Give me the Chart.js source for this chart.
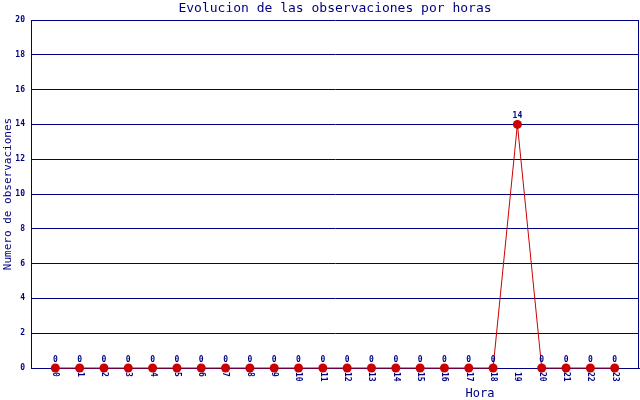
<!DOCTYPE html>
<html>
<head>
<meta charset="utf-8">
<script src="https://cdn.jsdelivr.net/npm/chart.js@4/dist/chart.umd.min.js"></script>
<style>
  html, body { margin: 0; padding: 0; background: #fff; }
  #wrap { width: 640px; height: 400px; }
</style>
</head>
<body>
<div id="wrap"><canvas id="chart"></canvas></div>
<script>
const horas = [0, 1, 2, 3, 4, 5, 6, 7, 8, 9, 10, 11, 12, 13, 14, 15, 16, 17, 18, 19, 20, 21, 22, 23];
const observaciones = [0, 0, 0, 0, 0, 0, 0, 0, 0, 0, 0, 0, 0, 0, 0, 0, 0, 0, 0, 14, 0, 0, 0, 0];
const yTicks = [0, 2, 4, 6, 8, 10, 12, 14, 16, 18, 20];

const titulo = "Evolucion de las observaciones por horas";
const tituloX = "Hora";
const tituloY = "Numero de observaciones";

const navy = "#000080";
const rojo = "#cc0000";
const mono = "'DejaVu Sans Mono', 'Liberation Mono', monospace";

const extras = {
  id: "extras",
  afterDatasetsDraw(chart) {
    const ctx = chart.ctx;
    const area = chart.chartArea;
    const x = chart.scales.x;
    ctx.save();
    // borde derecho
    ctx.strokeStyle = navy;
    ctx.lineWidth = 1;
    ctx.beginPath();
    ctx.moveTo(area.right - 0.5, area.top);
    ctx.lineTo(area.right - 0.5, area.bottom);
    ctx.stroke();

    // titulo
    ctx.fillStyle = navy;
    ctx.font = "13px " + mono;
    ctx.textAlign = "center";
    ctx.textBaseline = "middle";
    ctx.fillText(titulo, (area.left + area.right) / 2, 9);

    // etiquetas de valores
    ctx.font = "bold 8px " + mono;
    ctx.textBaseline = "bottom";
    chart.getDatasetMeta(0).data.forEach((p, i) => {
      ctx.fillText(String(observaciones[i]), p.x, p.y - 4);
    });

    // etiquetas eje x (rotadas)
    horas.forEach(h => {
      ctx.save();
      ctx.translate(x.getPixelForValue(h), area.bottom + 4);
      ctx.rotate(Math.PI / 2);
      ctx.textAlign = "left";
      ctx.textBaseline = "middle";
      ctx.fillText(String(h), 0, 0);
      ctx.restore();
    });

    // titulo eje x
    ctx.font = "12px " + mono;
    ctx.textAlign = "center";
    ctx.textBaseline = "middle";
    ctx.fillText(tituloX, 480, 394);

    // titulo eje y
    ctx.font = "11px " + mono;
    ctx.translate(8, (area.top + area.bottom) / 2);
    ctx.rotate(-Math.PI / 2);
    ctx.fillText(tituloY, 0, 0);
    ctx.restore();
  }
};

new Chart(document.getElementById("chart"), {
  type: "line",
  data: {
    datasets: [{
      data: horas.map((h, i) => ({ x: h, y: observaciones[i] })),
      borderColor: rojo,
      borderWidth: 1,
      backgroundColor: rojo,
      pointBackgroundColor: rojo,
      pointBorderColor: rojo,
      pointRadius: 4.5,
      pointBorderWidth: 0,
      tension: 0,
      clip: false
    }]
  },
  options: {
    responsive: true,
    maintainAspectRatio: false,
    animation: false,
    devicePixelRatio: 1,
    layout: { autoPadding: false, padding: { top: 20, right: 1, left: 0, bottom: 0 } },
    plugins: { legend: { display: false }, tooltip: { enabled: false }, title: { display: false } },
    scales: {
      x: {
        type: "linear",
        min: -1,
        max: 24,
        afterBuildTicks: s => { s.ticks = horas.map(v => ({ value: v })); },
        afterFit: s => { s.height = 32; s.paddingLeft = 0; s.paddingRight = 0; },
        ticks: { display: false },
        grid: { display: false },
        border: { display: true, color: navy, width: 1 }
      },
      y: {
        min: 0,
        max: 20,
        afterBuildTicks: s => { s.ticks = yTicks.map(v => ({ value: v })); },
        afterFit: s => { s.width = 31; s.paddingTop = 0; s.paddingBottom = 0; },
        ticks: { color: navy, font: { family: mono, size: 8, weight: "bold" }, padding: 6 },
        grid: { color: navy, lineWidth: 1, drawTicks: false },
        border: { display: true, color: navy, width: 1 }
      }
    }
  },
  plugins: [extras]
});
</script>
</body>
</html>
